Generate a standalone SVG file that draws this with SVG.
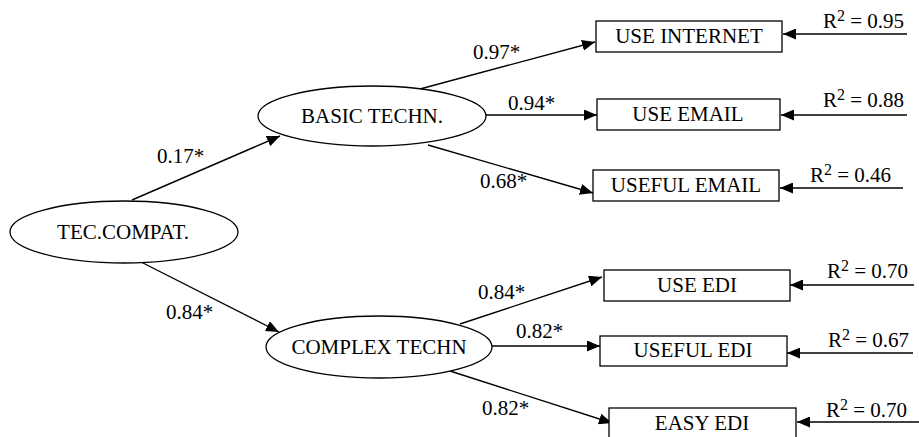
<svg xmlns="http://www.w3.org/2000/svg" width="919" height="437" viewBox="0 0 919 437">
<style>
text{font-size:21px;fill:#000}
.n{text-anchor:middle}
.sh{fill:#fff;stroke:#000;stroke-width:1.3}
.c line{stroke:#000;stroke-width:1.4;marker-end:url(#ah)}
.sup{font-size:16px}
</style>
<defs>
<marker id="ah" markerUnits="userSpaceOnUse" markerWidth="13" markerHeight="11" refX="13" refY="5.5" orient="auto">
<path d="M0,0 L13,5.5 L0,11 z" fill="#000"/>
</marker>
</defs>
<rect width="919" height="437" fill="#fff"/>
<g font-family="Liberation Serif, Times New Roman, DejaVu Serif, serif">
<g class="c" id="connectors">
<line x1="132" y1="200" x2="280" y2="136"/>
<line x1="141" y1="262" x2="279" y2="332"/>
<line x1="420" y1="89" x2="595" y2="42"/>
<line x1="486" y1="115" x2="597" y2="115"/>
<line x1="428" y1="145" x2="593" y2="193"/>
<line x1="460" y1="324" x2="602" y2="277"/>
<line x1="492" y1="346" x2="600" y2="346"/>
<line x1="450" y1="371" x2="612" y2="423"/>
<line x1="907" y1="34" x2="783" y2="34"/>
<line x1="907" y1="115" x2="781" y2="115"/>
<line x1="903" y1="188" x2="780" y2="188"/>
<line x1="914" y1="285" x2="790" y2="285"/>
<line x1="913" y1="353" x2="787" y2="353"/>
<line x1="919" y1="422" x2="797" y2="422"/>
</g>
<g id="labels">
<text x="157" y="163">0.17*</text>
<text x="166" y="319">0.84*</text>
<text x="473" y="59">0.97*</text>
<text x="508" y="110">0.94*</text>
<text x="480" y="188">0.68*</text>
<text x="478" y="299">0.84*</text>
<text x="516" y="338">0.82*</text>
<text x="482" y="415">0.82*</text>
<text x="823" y="28">R<tspan class="sup" dy="-7">2</tspan><tspan dy="7"> = 0.95</tspan></text>
<text x="823" y="107">R<tspan class="sup" dy="-7">2</tspan><tspan dy="7"> = 0.88</tspan></text>
<text x="810" y="182">R<tspan class="sup" dy="-7">2</tspan><tspan dy="7"> = 0.46</tspan></text>
<text x="827" y="278">R<tspan class="sup" dy="-7">2</tspan><tspan dy="7"> = 0.70</tspan></text>
<text x="828" y="347">R<tspan class="sup" dy="-7">2</tspan><tspan dy="7"> = 0.67</tspan></text>
<text x="826" y="417">R<tspan class="sup" dy="-7">2</tspan><tspan dy="7"> = 0.70</tspan></text>
</g>
<g id="tec_compat">
<ellipse class="sh" cx="124" cy="232" rx="114" ry="31"/>
<text class="n" x="123" y="239">TEC.COMPAT.</text>
</g>
<g id="basic_techn">
<ellipse class="sh" cx="372" cy="116" rx="114" ry="30"/>
<text class="n" x="372" y="123">BASIC TECHN.</text>
</g>
<g id="complex_techn">
<ellipse class="sh" cx="379" cy="347" rx="113" ry="31"/>
<text class="n" x="379" y="354">COMPLEX TECHN</text>
</g>
<g id="use_internet">
<rect class="sh" x="596" y="21" width="186" height="31"/>
<text class="n" x="689" y="43">USE INTERNET</text>
</g>
<g id="use_email">
<rect class="sh" x="597" y="99" width="183" height="31"/>
<text class="n" x="688" y="121">USE EMAIL</text>
</g>
<g id="useful_email">
<rect class="sh" x="593" y="170" width="186" height="31"/>
<text class="n" x="686" y="192">USEFUL EMAIL</text>
</g>
<g id="use_edi">
<rect class="sh" x="604" y="270" width="186" height="31"/>
<text class="n" x="697" y="292">USE EDI</text>
</g>
<g id="useful_edi">
<rect class="sh" x="600" y="336" width="187" height="30"/>
<text class="n" x="693" y="357">USEFUL EDI</text>
</g>
<g id="easy_edi">
<rect class="sh" x="609" y="408" width="187" height="32"/>
<text class="n" x="702" y="430">EASY EDI</text>
</g>
</g>
</svg>
